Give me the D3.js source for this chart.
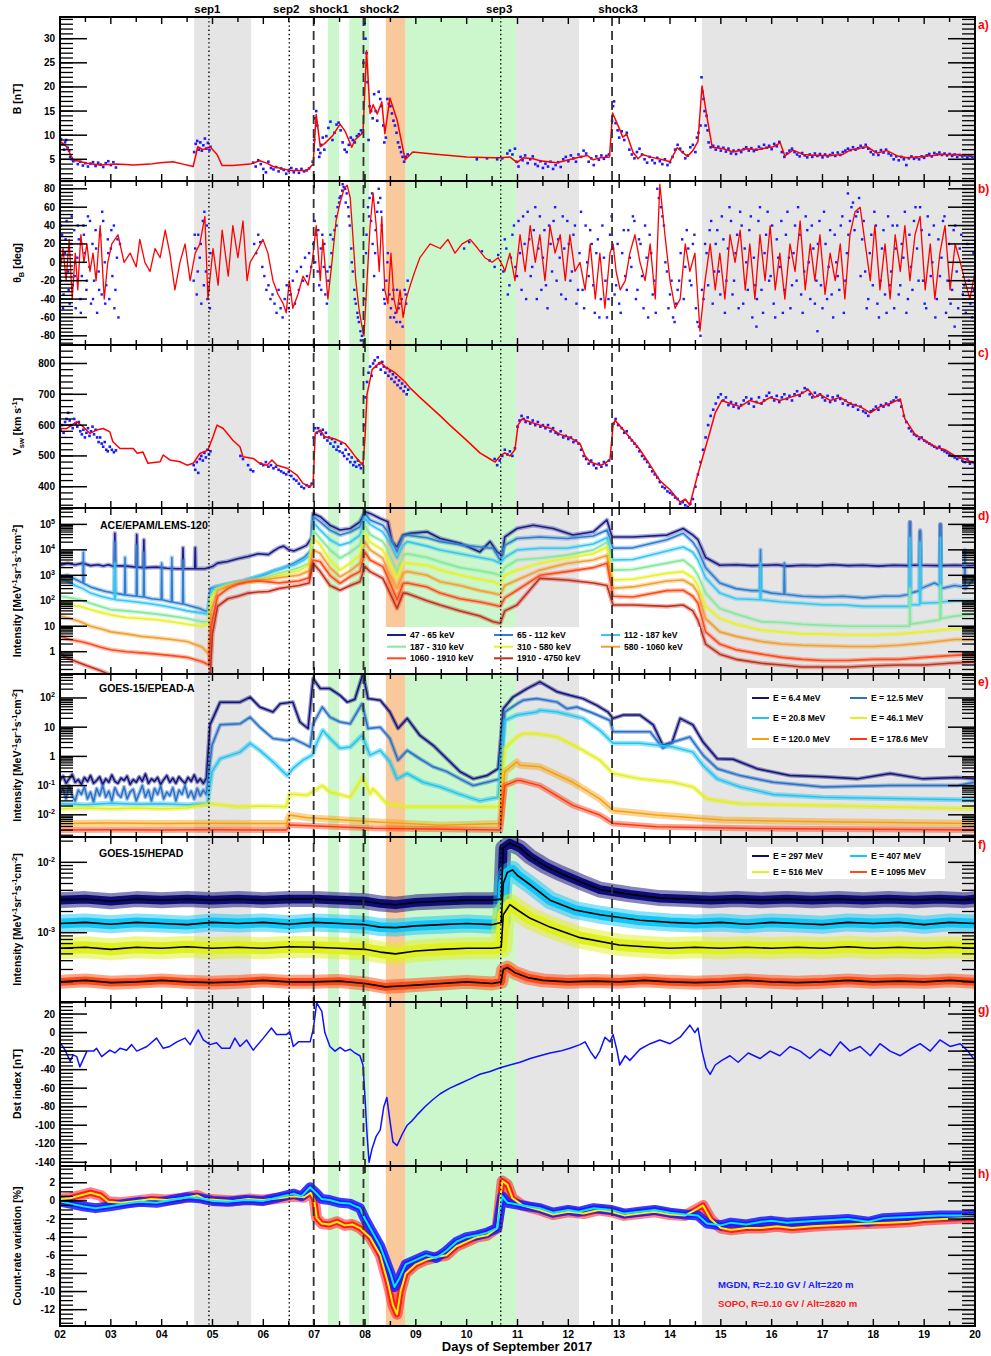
<!DOCTYPE html>
<html>
<head>
<meta charset="utf-8">
<script src="https://cdn.jsdelivr.net/npm/d3@7"></script>
<style>
body { margin: 0; background: #fff; }
text { font-family: "Liberation Sans", Arial, Helvetica, sans-serif; font-weight: bold; }
</style>
</head>
<body>
<svg id="chart" width="991" height="1356"></svg>
<script>
// ---------- time axis / events ----------
var dayTicks = [2,3,4,5,6,7,8,9,10,11,12,13,14,15,16,17,18,19,20];
var dayLabels = ["02","03","04","05","06","07","08","09","10","11","12","13","14","15","16","17","18","19","20"];
var grayBands = [[4.64,5.76],[10.97,12.21],[14.63,20]];
var greenBands = [[7.27,7.49],[7.69,8.08],[8.79,10.97]];
var orangeBands = [[8.41,8.79]];
var eventNames = ["sep1","sep2","shock1","shock2","sep3","shock3"];
var eventDays = [4.93,6.51,6.99,7.97,10.67,12.86];
var eventKinds = ["sep","sep","shock","shock","sep","shock"];
var eventLabelDays = [4.90,6.45,7.29,8.28,10.64,12.98];

// ---------- a) B ----------
var bFieldTicks = [5,10,15,20,25,30];
var bFieldFit = [[2.02,8.6],[2.13,7.6],[2.26,4.9],[2.53,4.2],[2.79,3.8],[3.12,4.0],[3.44,3.8],[3.77,4.0],[3.97,4.3],[4.22,4.5],[4.42,4.0],[4.62,3.5],[4.71,7.6],[4.81,7.0],[4.95,7.6],[5.09,6.0],[5.19,3.7],[5.40,3.7],[5.74,4.0],[5.93,4.7],[6.07,4.2],[6.19,3.5],[6.39,3.0],[6.53,2.7],[6.86,2.7],[6.98,4.0],[7.04,14.3],[7.12,7.6],[7.21,8.3],[7.37,10.0],[7.51,12.3],[7.61,10.8],[7.74,7.5],[7.80,9.0],[7.96,10.5],[8.03,27.5],[8.10,14.5],[8.16,16.3],[8.24,14.4],[8.33,16.9],[8.39,10.3],[8.49,17.7],[8.63,13.2],[8.75,7.0],[8.79,4.9],[8.94,6.5],[9.34,6.1],[10.0,5.5],[10.52,5.3],[10.66,5.3],[10.85,5.5],[10.99,4.3],[11.11,5.3],[11.31,5.1],[11.44,4.7],[11.78,4.3],[11.97,4.8],[12.17,5.3],[12.37,5.8],[12.49,4.9],[12.62,5.3],[12.81,5.5],[12.87,14.6],[13.01,11.2],[13.07,9.6],[13.15,10.2],[13.27,6.5],[13.37,5.1],[13.46,6.0],[13.60,5.5],[13.86,4.9],[14.0,4.5],[14.14,7.4],[14.34,5.6],[14.45,6.8],[14.55,8.7],[14.63,20.2],[14.73,13.6],[14.83,7.5],[15.05,7.2],[15.24,6.5],[15.52,7.2],[15.71,7.0],[16.03,7.6],[16.17,8.4],[16.26,5.7],[16.42,6.9],[16.62,6.0],[16.89,5.8],[17.15,5.8],[17.40,6.0],[17.54,6.9],[17.88,7.6],[18.07,6.3],[18.27,6.8],[18.47,5.7],[18.66,5.3],[18.86,5.5],[19.17,5.8],[19.31,6.0],[19.65,6.0],[19.94,5.8]];
var bFieldRaw = [[2.02,9.2],[2.05,8.1],[2.08,7.0],[2.1,8.5],[2.12,9.0],[2.15,7.4],[2.18,6.8],[2.2,5.5],[2.23,5.0],[2.26,4.6],[2.3,4.8],[2.35,4.0],[2.4,4.5],[2.45,3.7],[2.5,4.2],[2.55,3.5],[2.6,4.1],[2.65,4.4],[2.7,3.6],[2.75,4.3],[2.8,3.9],[2.85,3.4],[2.9,4.2],[2.95,4.6],[3.0,3.8],[3.05,4.4],[3.1,3.3],
[4.64,6.5],[4.67,8.2],[4.7,8.8],[4.73,7.0],[4.76,8.5],[4.79,6.8],[4.82,7.9],[4.85,9.3],[4.88,7.2],[4.91,8.4],[4.94,6.9],[4.96,7.6],
[5.8,4.3],[5.85,3.5],[5.9,4.8],[5.95,4.0],[6.0,3.0],[6.05,2.3],[6.1,4.5],[6.15,3.2],[6.2,2.9],[6.25,3.4],[6.3,2.5],[6.35,3.1],[6.4,2.8],[6.45,2.0],[6.5,2.6],[6.55,3.2],[6.6,2.3],[6.65,2.9],[6.7,2.2],[6.75,3.0],[6.8,2.5],[6.85,2.7],[6.9,3.1],
[6.97,4.5],[7.0,9.0],[7.02,13.5],[7.04,15.0],[7.06,12.0],[7.08,7.0],[7.1,5.5],[7.12,6.3],[7.14,8.0],[7.17,9.5],[7.2,7.0],[7.24,9.8],[7.28,11.5],[7.32,12.8],[7.36,9.0],[7.4,10.5],[7.44,12.2],[7.48,12.6],[7.52,11.0],[7.56,8.5],[7.6,7.0],[7.64,6.5],[7.68,8.0],[7.72,9.5],[7.76,9.0],[7.8,8.5],[7.84,9.8],[7.88,10.2],[7.92,11.0],[7.95,10.5],[7.97,25],[7.99,33],[8.01,30],[8.03,27],[8.05,21],[8.07,9.0],[8.09,16],[8.12,15],[8.15,13.5],[8.18,18.5],[8.21,15],[8.24,13],[8.27,19],[8.3,17.5],[8.33,16],[8.36,12],[8.38,8.5],[8.41,9.5],[8.44,17.5],[8.47,16.5],[8.5,16],[8.53,14.5],[8.56,13],[8.59,12],[8.62,10.5],[8.65,8.5],[8.68,7.5],[8.71,6.5],[8.74,5.5],[8.77,4.5],[8.8,5.5],[8.84,6.0],
[10.2,5.0],[10.4,5.2],[10.6,5.0],[10.7,5.2],[10.8,6.2],[10.85,6.8],[10.9,6.0],[10.95,7.2],[10.98,4.5],
[11.02,3.5],[11.06,5.5],[11.1,4.8],[11.15,5.8],[11.2,4.2],[11.25,5.0],[11.3,5.6],[11.35,4.0],[11.4,3.6],[11.45,4.6],[11.5,3.2],[11.55,4.1],[11.6,3.5],[11.65,4.5],[11.7,3.0],[11.75,3.8],[11.8,4.4],[11.85,3.4],[11.9,5.0],[11.95,5.5],[12.0,4.6],[12.05,5.8],[12.1,5.2],[12.15,4.5],[12.2,6.0],[12.25,5.5],[12.3,6.8],[12.35,6.2],[12.4,4.5],[12.45,5.2],[12.5,3.8],[12.55,5.6],[12.6,4.9],[12.65,5.8],[12.7,5.1],[12.75,5.7],[12.8,6.0],
[12.86,13.0],[12.88,16.0],[12.9,17.0],[12.93,12.5],[12.97,11.0],[13.0,9.5],[13.05,10.8],[13.1,9.0],[13.15,10.5],[13.2,7.0],[13.25,6.0],[13.3,5.2],[13.35,6.5],[13.4,7.2],[13.45,6.0],[13.5,5.0],[13.55,4.3],[13.6,5.5],[13.65,4.8],[13.7,4.2],[13.75,5.3],[13.8,4.6],[13.85,4.0],[13.9,5.0],[13.95,3.8],[14.0,4.4],[14.05,5.5],[14.1,7.0],[14.15,8.0],[14.2,7.2],[14.25,6.5],[14.3,5.2],[14.35,5.8],[14.4,7.5],[14.45,8.0],[14.5,6.5],[14.53,9.5],[14.56,10.5],[14.6,12.0],[14.62,22.0],[14.64,19.0],[14.66,17.5],[14.68,15.0],[14.7,12.0],[14.72,14.0],[14.74,11.0],[14.76,8.5],[14.8,7.5],[14.85,7.8],
[14.9,7.0],[14.95,7.6],[15.0,6.8],[15.05,7.4],[15.1,6.6],[15.15,7.2],[15.2,6.2],[15.25,6.8],[15.3,6.1],[15.35,6.9],[15.4,6.5],[15.45,7.1],[15.5,7.5],[15.55,6.8],[15.6,7.3],[15.65,6.7],[15.7,7.0],[15.75,7.6],[15.8,7.2],[15.85,8.0],[15.9,7.4],[15.95,7.8],[16.0,7.1],[16.05,8.2],[16.1,7.7],[16.15,8.6],[16.2,6.5],[16.25,5.5],[16.3,6.2],[16.35,6.8],[16.4,7.2],[16.45,6.5],[16.5,6.0],[16.55,5.6],[16.6,6.3],[16.65,5.8],[16.7,5.4],[16.75,6.0],[16.8,5.5],[16.85,6.2],[16.9,5.7],[16.95,6.1],[17.0,5.4],[17.05,6.0],[17.1,5.6],[17.15,5.9],[17.2,6.3],[17.25,5.7],[17.3,6.4],[17.35,5.9],[17.4,6.5],[17.45,6.8],[17.5,7.2],[17.55,6.9],[17.6,7.5],[17.65,7.0],[17.7,7.3],[17.75,7.8],[17.8,7.4],[17.85,8.0],[17.9,7.2],[17.95,6.5],[18.0,6.0],[18.05,6.6],[18.1,5.9],[18.15,6.9],[18.2,6.4],[18.25,7.0],[18.3,6.2],[18.35,5.8],[18.4,5.0],[18.45,5.6],[18.5,4.8],[18.55,5.5],[18.6,5.0],[18.65,3.8],[18.7,5.2],[18.75,5.6],[18.8,5.1],[18.85,5.4],[18.9,5.0],[18.95,5.6],[19.0,5.3],[19.05,5.8],[19.1,6.1],[19.15,5.6],[19.2,6.3],[19.25,6.0],[19.3,6.4],[19.35,5.9],[19.4,6.2],[19.45,5.8],[19.5,6.1],[19.55,5.7],[19.6,6.0],[19.65,5.5],[19.7,5.9],[19.75,5.6],[19.8,5.8],[19.85,5.4],[19.9,5.7],[19.95,5.5]];

// ---------- b) theta_B ----------
var thetaTicks = [-80,-60,-40,-20,0,20,40,60,80];
var thetaFit = [[2.0,-10],[2.06,15],[2.12,-20],[2.18,25],[2.24,-40],[2.3,10],[2.35,-30],[2.41,30],[2.47,0],[2.53,20],[2.59,-10],[2.65,10],[2.71,-20],[2.79,40],[2.87,-40],[2.94,0],[3.02,20],[3.14,30],[3.26,0],[3.38,10],[3.5,-5],[3.57,25],[3.67,0],[3.77,-10],[3.87,15],[3.97,5],[4.07,35],[4.16,10],[4.26,-30],[4.36,0],[4.46,20],[4.56,-20],[4.66,10],[4.75,20],[4.85,50],[4.91,-40],[5.01,15],[5.11,-25],[5.19,35],[5.31,-15],[5.4,40],[5.5,5],[5.6,45],[5.68,-20],[5.74,0],[5.9,15],[5.99,25],[6.09,10],[6.19,-20],[6.29,-35],[6.39,-45],[6.45,-55],[6.51,-20],[6.58,-50],[6.68,-35],[6.78,-15],[6.88,-25],[6.96,0],[7.04,40],[7.12,-20],[7.17,25],[7.27,-40],[7.35,0],[7.43,45],[7.51,65],[7.59,80],[7.65,84],[7.71,70],[7.76,30],[7.82,-20],[7.88,-50],[7.94,-70],[7.98,-80],[8.04,-20],[8.1,40],[8.16,75],[8.22,40],[8.28,-10],[8.33,50],[8.39,-30],[8.45,-45],[8.51,10],[8.57,-40],[8.63,-55],[8.69,-30],[8.75,-60],[8.81,-40],[8.89,-25],[8.98,-10],[9.08,5],[9.28,20],[9.48,15],[9.63,25],[9.77,10],[9.91,20],[10.07,25],[10.22,15],[10.36,5],[10.5,0],[10.62,5],[10.72,-5],[10.75,-10],[10.85,10],[10.95,-20],[11.05,30],[11.15,-10],[11.25,40],[11.35,0],[11.44,30],[11.54,-20],[11.64,40],[11.74,10],[11.84,30],[11.94,-20],[12.03,30],[12.13,-10],[12.23,0],[12.33,-30],[12.43,20],[12.53,-40],[12.62,10],[12.72,-50],[12.82,10],[12.88,20],[12.94,-10],[13.02,-30],[13.12,-20],[13.21,10],[13.31,30],[13.41,0],[13.51,-20],[13.61,20],[13.71,-40],[13.8,85],[13.9,30],[14.0,-20],[14.1,-50],[14.2,-40],[14.3,20],[14.39,-10],[14.49,10],[14.59,-75],[14.69,-20],[14.79,20],[14.89,-30],[14.98,10],[15.08,-40],[15.18,30],[15.28,0],[15.38,35],[15.48,-30],[15.57,20],[15.67,-40],[15.77,30],[15.87,-20],[15.97,40],[16.07,-30],[16.16,10],[16.26,-40],[16.36,20],[16.46,-10],[16.56,45],[16.66,-30],[16.76,20],[16.85,-20],[16.95,30],[17.05,-35],[17.15,10],[17.25,-20],[17.35,20],[17.44,-40],[17.54,30],[17.64,55],[17.74,60],[17.84,20],[17.94,-20],[18.03,40],[18.13,-30],[18.23,20],[18.33,-40],[18.43,30],[18.53,-10],[18.62,40],[18.72,-20],[18.82,30],[18.92,50],[19.02,-30],[19.12,20],[19.21,-40],[19.31,10],[19.41,40],[19.51,-30],[19.61,20],[19.71,0],[19.8,-20],[19.9,-40],[20.0,-10]];
var thetaRaw = [[2.01,-20],[2.04,30],[2.07,-35],[2.1,10],[2.13,45],[2.16,-10],[2.19,-45],[2.22,20],[2.25,-25],[2.28,35],[2.31,-50],[2.34,5],[2.37,25],[2.4,-40],[2.43,-15],[2.46,40],[2.49,10],[2.52,-30],[2.55,50],[2.58,-5],[2.61,-45],[2.64,20],[2.67,-20],[2.7,35],[2.73,-55],[2.76,-10],[2.79,30],[2.82,-35],[2.85,45],[2.88,0],[2.91,-25],[2.94,25],[2.97,-40],[3.0,15],[3.03,-15],[3.06,40],[3.09,-30],[3.12,5],[3.15,-60],[3.18,20],
[2.02,40],[2.06,-50],[2.11,25],[2.17,-30],[2.23,50],[2.29,-15],[2.35,40],[2.41,-55],[2.47,30],[2.53,-20],[2.59,45],[2.65,-40],[2.71,15],[2.77,-30],[2.83,55],[2.89,-45],[2.95,10],[3.01,35],[3.07,-50],[3.13,25],
[4.63,-20],[4.66,15],[4.69,-35],[4.72,30],[4.75,5],[4.78,-45],[4.81,45],[4.84,55],[4.87,-10],[4.9,-40],[4.93,-30],[4.96,10],[4.65,30],[4.71,-10],[4.77,20],[4.83,-25],[4.89,40],[4.95,-50],
[5.82,20],[5.86,10],[5.9,30],[5.94,22],[5.98,-5],[6.02,-15],[6.06,-30],[6.1,-25],[6.14,-40],[6.18,-35],[6.22,-45],[6.26,-55],[6.3,-30],[6.34,-50],[6.38,-60],[6.42,-40],[6.46,-25],[6.5,-50],[6.54,-35],[6.58,-20],[6.62,-45],[6.66,-10],[6.7,-30],[6.74,-5],[6.78,-20],[6.82,5],[6.86,-15],[6.9,10],[6.94,-5],
[6.98,20],[7.01,45],[7.04,30],[7.07,-10],[7.1,-25],[7.13,15],[7.16,30],[7.19,-5],[7.22,-35],[7.25,-45],[7.28,-20],[7.31,-5],[7.34,10],[7.37,25],[7.4,35],[7.43,50],[7.46,60],[7.49,65],[7.52,72],[7.55,78],[7.58,82],[7.61,80],[7.64,75],[7.67,60],[7.7,40],[7.73,15],[7.76,-10],[7.79,-30],[7.82,-45],[7.85,-55],[7.88,-65],[7.91,-75],[7.94,-80],[7.97,-85],[8.0,-40],[8.03,30],[8.06,60],[8.09,70],[8.12,45],[8.15,20],[8.18,-15],[8.21,35],[8.24,55],[8.27,80],[8.3,70],[8.33,40],[8.36,-30],[8.39,-45],[8.42,-20],[8.45,10],[8.48,-35],[8.51,-50],[8.54,-40],[8.57,-60],[8.6,-55],[8.63,-30],[8.66,-50],[8.69,-65],[8.72,-40],[8.75,-55],[8.78,-30],[8.81,-45],[8.84,-20],
[7.02,0],[7.08,35],[7.14,-30],[7.2,20],[7.26,-10],[7.32,30],[7.44,40],[7.5,70],[7.56,85],[7.62,65],[7.68,50],[7.74,0],[7.8,-40],[7.86,-60],[7.92,-85],[8.02,10],[8.08,50],[8.14,75],[8.2,10],[8.26,65],[8.32,55],[8.38,-40],[8.44,0],[8.5,-60],[8.56,-30],[8.62,-65],[8.68,-45],[8.74,-70],[8.8,-35],
[9.95,15],[10.05,22],[10.3,12],[10.45,2],[10.55,-5],[10.62,8],
[10.72,-10],[10.78,15],[10.84,-25],[10.9,30],[10.96,-5],[11.02,45],[11.08,-30],[11.14,20],[11.2,55],[11.26,-15],[11.32,35],[11.38,-40],[11.44,50],[11.5,5],[11.56,-25],[11.62,40],[11.68,-10],[11.74,60],[11.8,25],[11.86,-35],[11.92,15],[11.98,45],[12.04,-20],[12.1,30],[12.16,-45],[12.22,10],[12.28,-30],[12.34,40],[12.4,-15],[12.46,20],[12.52,-55],[12.58,25],[12.64,-40],[12.7,5],[12.76,-60],[12.82,30],[12.88,15],[12.94,-25],[13.0,-45],[13.06,10],[13.12,-15],[13.18,35],[13.24,-5],[13.3,45],[13.36,-30],[13.42,20],[13.48,-50],[13.54,5],[13.6,30],[13.66,-35],[13.72,-55],[13.78,70],[13.82,60],[13.88,40],[13.94,-10],[14.0,-35],[14.06,-60],[14.12,-45],[14.18,-20],[14.24,25],[14.3,-5],[14.36,15],[14.42,-25],[14.48,30],[14.54,-65],[14.6,-80],[14.66,-40],[14.72,10],[14.78,35],[14.84,-45],[14.9,20],[14.96,-10],[15.02,50],[15.08,-55],[15.14,15],[15.2,45],[15.26,-20],[15.32,30],[15.38,55],[15.44,-45],[15.5,0],[15.56,35],[15.62,-60],[15.68,-25],[15.7,-70],[15.74,45],[15.8,-30],[15.86,10],[15.92,55],[15.98,-15],[16.04,-45],[16.1,25],[16.16,-5],[16.22,-55],[16.28,30],[16.34,5],[16.4,-25],[16.46,40],[16.52,60],[16.58,-35],[16.64,-10],[16.7,35],[16.76,-40],[16.82,15],[16.88,-20],[16.9,-75],[16.94,45],[17.0,-50],[17.06,20],[17.12,-5],[17.18,-35],[17.24,30],[17.3,-15],[17.36,40],[17.42,-55],[17.48,10],[17.5,75],[17.54,45],[17.6,65],[17.66,50],[17.72,70],[17.78,25],[17.84,-10],[17.9,-40],[17.96,30],[18.02,55],[18.08,-45],[18.14,-20],[18.2,35],[18.26,-55],[18.32,-25],[18.38,40],[18.44,15],[18.5,-35],[18.56,20],[18.62,55],[18.68,-40],[18.74,-5],[18.8,45],[18.86,15],[18.92,60],[18.98,-20],[19.04,-50],[19.1,30],[19.16,0],[19.22,-60],[19.28,25],[19.34,5],[19.4,50],[19.46,-20],[19.52,-45],[19.58,35],[19.6,-70],[19.64,-10],[19.7,15],[19.76,-35],[19.82,-55],[19.88,-20],[19.94,-60],[19.98,-30],
[10.75,25],[10.81,-35],[10.87,5],[10.93,40],[10.99,-15],[11.05,10],[11.11,50],[11.17,-40],[11.23,25],[11.29,-5],[11.35,60],[11.41,15],[11.47,-30],[11.53,35],[11.59,-50],[11.65,20],[11.71,45],[11.77,-20],[11.83,5],[11.89,50],[11.95,-40],[12.01,20],[12.07,-10],[12.13,40],[12.19,-30],[12.25,55],[12.31,-50],[12.37,0],[12.43,35],[12.49,-25],[12.55,10],[12.61,-60],[12.67,40],[12.73,-20],[12.79,-40],[12.85,50],[12.91,-35],[12.97,20],[13.03,-55],[13.09,35],[13.15,-30],[13.21,5],[13.27,50],[13.33,-40],[13.39,25],[13.45,-15],[13.51,40],[13.57,-60],[13.63,10],[13.69,-20],[13.75,80],[13.85,50],[13.91,0],[13.97,-50],[14.03,-20],[14.09,-65],[14.15,-30],[14.21,10],[14.27,-40],[14.33,35],[14.39,-20],[14.45,20],[14.51,-50],[14.57,-70],[14.63,-30],[14.69,20],[14.75,-25],[14.81,45],[14.87,-10],[14.93,35],[14.99,-35],[15.05,25],[15.11,-20],[15.17,60],[15.23,-35],[15.29,10],[15.35,-50],[15.41,40],[15.47,15],[15.53,-30],[15.59,50],[15.65,5],[15.71,-40],[15.77,60],[15.83,-55],[15.89,30],[15.95,-20],[16.01,40],[16.07,-60],[16.13,5],[16.19,45],[16.25,-30],[16.31,55],[16.37,-50],[16.43,10],[16.49,-20],[16.55,30],[16.61,-55],[16.67,50],[16.73,0],[16.79,40],[16.85,-45],[16.91,20],[16.97,-25],[17.03,55],[17.09,-40],[17.15,35],[17.21,-60],[17.27,0],[17.33,-30],[17.39,50],[17.45,-20],[17.51,30],[17.57,60],[17.63,35],[17.69,55],[17.75,-15],[17.81,45],[17.87,-50],[17.93,10],[17.99,-25],[18.05,40],[18.11,-60],[18.17,15],[18.23,-35],[18.29,50],[18.35,-10],[18.41,-50],[18.47,40],[18.53,-25],[18.59,5],[18.65,-55],[18.71,30],[18.77,-30],[18.83,60],[18.89,-20],[18.95,35],[19.01,-45],[19.07,50],[19.13,-15],[19.19,40],[19.25,-40],[19.31,-15],[19.37,45],[19.43,-55],[19.49,20],[19.55,-30],[19.61,40],[19.67,-50],[19.73,30],[19.79,-25],[19.85,20],[19.91,-45],[19.97,10]];

// ---------- c) V_sw ----------
var vswTicks = [400,500,600,700,800];
var vswFit = [[2.02,589],[2.13,589],[2.33,611],[2.46,594],[2.59,573],[2.72,584],[2.85,589],[2.98,578],[3.04,546],[3.18,524],[3.44,524],[3.52,509],[3.63,513],[3.73,476],[3.97,481],[4.03,503],[4.16,487],[4.36,481],[4.5,470],[4.62,476],[4.75,508],[4.91,519],[5.01,562],[5.09,600],[5.21,589],[5.40,551],[5.54,530],[5.60,497],[5.80,492],[5.93,476],[6.07,470],[6.17,487],[6.27,470],[6.47,460],[6.66,438],[6.78,411],[6.92,400],[6.98,411],[7.02,573],[7.12,584],[7.21,562],[7.41,555],[7.61,540],[7.71,520],[7.80,500],[7.90,480],[7.96,470],[8.0,560],[8.04,700],[8.14,780],[8.30,805],[8.39,790],[8.59,770],[8.79,740],[8.89,720],[9.08,690],[9.28,660],[9.48,630],[9.67,600],[9.87,570],[10.07,540],[10.26,510],[10.46,490],[10.56,480],[10.66,500],[10.75,510],[10.85,500],[10.95,520],[11.01,600],[11.09,620],[11.25,610],[11.44,600],[11.64,590],[11.84,570],[12.03,560],[12.23,540],[12.33,500],[12.43,480],[12.62,470],[12.72,475],[12.82,490],[12.88,600],[12.92,616],[13.21,560],[13.41,520],[13.61,470],[13.80,420],[14.0,390],[14.10,370],[14.20,350],[14.30,360],[14.39,340],[14.45,380],[14.53,430],[14.65,500],[14.79,580],[14.89,640],[15.02,680],[15.18,670],[15.38,660],[15.57,680],[15.77,670],[15.97,690],[16.16,680],[16.36,690],[16.56,700],[16.72,715],[16.85,690],[16.95,700],[17.15,680],[17.35,690],[17.54,670],[17.74,660],[17.94,640],[18.13,660],[18.33,670],[18.53,685],[18.62,620],[18.82,570],[19.02,550],[19.21,530],[19.41,520],[19.61,500],[19.80,490],[20.0,475]];
var vswRaw = [[2.01,585],[2.04,600],[2.07,575],[2.1,610],[2.13,620],[2.16,640],[2.19,615],[2.22,600],[2.25,590],[2.28,620],[2.31,605],[2.34,595],[2.37,610],[2.4,580],[2.43,570],[2.46,585],[2.49,560],[2.52,575],[2.55,590],[2.58,565],[2.61,580],[2.64,595],[2.67,570],[2.7,585],[2.73,560],[2.76,545],[2.79,560],[2.82,540],[2.85,530],[2.88,545],[2.91,520],[2.94,515],[2.98,530],[3.02,520],[3.06,512],[3.1,518],
[4.63,470],[4.66,455],[4.69,480],[4.72,445],[4.75,490],[4.78,500],[4.81,485],[4.84,510],[4.87,495],[4.9,520],[4.93,505],[4.96,515],
[5.55,500],[5.6,490],[5.7,470],[5.75,455],[5.8,450],[5.95,475],[6.0,470],[6.05,480],[6.1,465],[6.15,470],[6.2,460],[6.25,465],[6.3,455],[6.35,450],[6.4,445],[6.45,440],[6.5,448],[6.55,435],[6.6,425],[6.65,420],[6.7,410],[6.75,400],[6.8,395],[6.85,405],[6.9,400],[6.95,410],
[6.99,560],[7.02,590],[7.05,575],[7.08,590],[7.11,580],[7.14,570],[7.17,585],[7.2,560],[7.23,575],[7.26,550],[7.29,560],[7.32,540],[7.35,555],[7.38,530],[7.41,545],[7.44,520],[7.47,530],[7.5,515],[7.53,540],[7.56,510],[7.59,500],[7.62,520],[7.65,490],[7.68,505],[7.71,480],[7.74,495],[7.77,470],[7.8,480],[7.83,465],[7.86,485],[7.89,470],[7.92,460],[7.95,475],[7.98,600],[8.01,690],[8.04,740],[8.07,770],[8.1,790],[8.13,760],[8.16,800],[8.19,810],[8.22,790],[8.25,820],[8.28,800],[8.31,780],[8.34,805],[8.37,790],[8.4,770],[8.43,785],[8.46,760],[8.49,775],[8.52,750],[8.55,765],[8.58,740],[8.61,755],[8.64,730],[8.67,745],[8.7,720],[8.73,735],[8.76,710],[8.79,725],[8.82,700],[8.85,715],
[10.55,490],[10.6,470],[10.65,485],[10.7,500],[10.75,520],[10.8,505],[10.85,515],[10.9,500],[10.95,525],[11.0,595],[11.04,615],[11.08,630],[11.12,620],[11.16,610],[11.2,625],[11.25,605],[11.3,615],[11.35,600],[11.4,610],[11.45,595],[11.5,600],[11.55,590],[11.6,600],[11.65,580],[11.7,590],[11.75,575],[11.8,570],[11.85,580],[11.9,560],[11.95,565],[12.0,555],[12.05,560],[12.1,545],[12.15,550],[12.2,540],[12.25,520],[12.3,500],[12.35,490],[12.4,475],[12.45,485],[12.5,470],[12.55,460],[12.6,475],[12.65,465],[12.7,480],[12.75,470],[12.8,485],[12.85,500],[12.89,605],[12.93,620],[12.98,600],[13.05,590],[13.1,575],[13.15,580],[13.2,560],[13.25,550],[13.3,540],[13.35,530],[13.4,515],[13.45,500],[13.5,490],[13.55,480],[13.6,465],[13.65,450],[13.7,440],[13.75,430],[13.8,415],[13.85,400],[13.9,395],[13.95,385],[14.0,380],[14.05,375],[14.1,365],[14.15,360],[14.2,345],[14.25,350],[14.3,340],[14.35,335],[14.4,345],[14.45,360],[14.5,400],[14.55,440],[14.6,480],[14.65,520],[14.7,560],[14.75,600],[14.8,630],[14.85,650],[14.9,670],[14.95,690],[15.0,700],[15.05,680],[15.1,690],[15.15,665],[15.2,675],[15.25,660],[15.3,670],[15.35,655],[15.4,665],[15.45,680],[15.5,690],[15.55,670],[15.6,685],[15.65,660],[15.7,675],[15.75,690],[15.8,670],[15.85,680],[15.9,695],[15.95,705],[16.0,690],[16.05,680],[16.1,695],[16.15,675],[16.2,690],[16.25,700],[16.3,685],[16.35,695],[16.4,680],[16.45,700],[16.5,710],[16.55,695],[16.6,705],[16.65,720],[16.7,715],[16.75,700],[16.8,690],[16.85,705],[16.9,695],[16.95,700],[17.0,690],[17.05,680],[17.1,695],[17.15,675],[17.2,690],[17.25,680],[17.3,695],[17.35,685],[17.4,670],[17.45,680],[17.5,665],[17.55,670],[17.6,660],[17.65,665],[17.7,650],[17.75,660],[17.8,645],[17.85,640],[17.9,630],[17.95,645],[18.0,650],[18.05,660],[18.1,650],[18.15,665],[18.2,660],[18.25,670],[18.3,665],[18.35,675],[18.4,680],[18.45,690],[18.5,680],[18.55,660],[18.6,630],[18.65,610],[18.7,590],[18.75,580],[18.8,570],[18.85,565],[18.9,555],[18.95,560],[19.0,550],[19.05,545],[19.1,540],[19.15,535],[19.2,530],[19.25,525],[19.3,530],[19.35,520],[19.4,515],[19.45,510],[19.5,505],[19.55,500],[19.6,495],[19.65,490],[19.7,495],[19.75,485],[19.8,480],[19.85,490],[19.9,475],[19.95,480],[20.0,470]];

// ---------- d) ACE/EPAM/LEMS-120 ----------
var epamTicks = [1,10,100,1e3,1e4,1e5];
var epamLabels = ["47 - 65 keV","65 - 112 keV","112 - 187 keV","187 - 310 keV","310 - 580 keV","580 - 1060 keV","1060 - 1910 keV","1910 - 4750 keV"];
var epam47 = [[2.0,2500],[2.15,2900],[2.3,2600],[2.45,3000],[2.6,2400],[2.75,2600],[2.85,2300],[2.95,2600],[3.07,2200],[3.08,4.5e4],[3.09,2400],[3.3,2300],[3.5,2100],[3.51,4e4],[3.52,2100],[3.64,2000],[3.65,2.5e4],[3.66,2000],[3.9,2100],[4.1,1900],[4.3,1800],[4.41,1800],[4.42,1.2e4],[4.43,1800],[4.65,1800],[4.66,1.2e4],[4.67,1800],[4.85,1800],[5.0,2200],[5.1,3000],[5.3,3500],[5.5,4500],[5.7,5500],[5.9,7000],[6.1,6500],[6.2,9000],[6.3,1.2e4],[6.4,1.4e4],[6.5,1.0e4],[6.6,9000],[6.75,1.2e4],[6.85,1.5e4],[6.95,3e4],[6.98,2.7e5],[7.12,2.0e5],[7.31,9.3e4],[7.51,6e4],[7.71,6.9e4],[7.90,1.26e5],[8.0,3.1e5],[8.10,2.7e5],[8.30,1.7e5],[8.45,1.26e5],[8.53,2.1e4],[8.63,1.3e4],[8.75,3.8e4],[8.89,4.5e4],[9.22,5.1e4],[9.48,2.8e4],[9.87,1.8e4],[10.26,8300],[10.46,2.1e4],[10.60,8300],[10.70,6200],[10.75,3.2e4],[10.99,6.9e4],[11.31,9.3e4],[11.70,6.9e4],[12.09,3.8e4],[12.49,5.1e4],[12.76,1.5e5],[12.86,3.2e4],[13.27,3.2e4],[13.94,3.8e4],[14.26,6.9e4],[14.45,3.8e4],[14.55,2.5e4],[14.7,5000],[14.98,2500],[15.3,2600],[15.6,2400],[15.9,2500],[16.1,2600],[16.3,2300],[16.6,2500],[16.9,2400],[17.2,2600],[17.5,2400],[17.8,2500],[18.1,2300],[18.4,2500],[18.71,2400],[18.72,1.2e5],[18.73,2500],[18.91,2500],[18.92,5e4],[18.93,2500],[19.31,2400],[19.32,1e5],[19.33,2400],[19.6,2500],[19.9,2400],[20,2500]];
var epam65 = [[2.0,900],[2.15,1000],[2.3,700],[2.45,500],[2.46,8000],[2.47,480],[2.6,350],[2.75,280],[2.9,230],[3.07,200],[3.08,2e4],[3.09,200],[3.27,170],[3.28,5000],[3.29,170],[3.5,150],[3.51,1.5e4],[3.52,150],[3.64,140],[3.65,8000],[3.66,140],[3.8,120],[3.99,110],[4.0,3000],[4.01,110],[4.19,90],[4.2,5000],[4.21,90],[4.41,75],[4.42,4000],[4.43,75],[4.6,60],[4.75,50],[4.85,40],[4.92,40],[4.96,300],[5.05,350],[5.2,400],[5.4,500],[5.6,600],[5.8,800],[6.0,1000],[6.2,1500],[6.4,2000],[6.6,3000],[6.8,5000],[6.95,1e4],[6.98,2e5],[7.12,1.26e5],[7.31,6e4],[7.51,3.8e4],[7.71,5e4],[7.90,8.1e4],[8.0,2.7e5],[8.10,1.5e5],[8.35,9.3e4],[8.45,5e4],[8.63,8300],[8.75,3.5e4],[8.83,3.8e4],[9.22,3e4],[9.48,2.1e4],[9.87,1.6e4],[10.26,1.3e4],[10.52,1.15e4],[10.66,4000],[10.75,1.5e4],[10.99,2.8e4],[11.44,3.2e4],[11.97,2.8e4],[12.49,3.5e4],[12.76,6e4],[12.88,1.15e4],[13.27,1.2e4],[13.94,2.5e4],[14.26,4.5e4],[14.45,2e4],[14.55,1e4],[14.7,2000],[14.98,500],[15.3,300],[15.6,250],[15.77,250],[15.78,1e4],[15.79,250],[16.0,200],[16.24,180],[16.25,3000],[16.26,180],[16.6,150],[17.0,140],[17.4,150],[17.8,130],[18.2,150],[18.5,150],[18.71,180],[18.72,1.2e5],[18.73,200],[18.91,250],[18.92,6e4],[18.93,300],[19.2,500],[19.31,400],[19.32,1e5],[19.33,300],[19.6,400],[19.79,350],[19.8,1e4],[19.81,300],[20,800]];
var epam112 = [[2.0,700],[2.15,600],[2.3,400],[2.45,300],[2.6,200],[2.8,150],[3.0,120],[3.07,115],[3.08,3000],[3.09,110],[3.3,100],[3.5,90],[3.7,80],[3.9,70],[4.1,60],[4.3,50],[4.5,40],[4.7,35],[4.9,30],[4.96,200],[5.05,350],[5.2,420],[5.4,500],[5.6,600],[5.8,800],[6.0,1100],[6.2,1500],[6.4,2000],[6.6,2500],[6.8,4000],[6.95,7000],[6.98,1.2e5],[7.12,6e4],[7.31,2.5e4],[7.51,1.5e4],[7.71,2e4],[7.90,3.8e4],[8.0,1.7e5],[8.10,1e5],[8.35,5.1e4],[8.45,2.5e4],[8.63,4700],[8.75,1.5e4],[8.83,2.1e4],[9.22,1.4e4],[9.48,9800],[9.87,7000],[10.26,5000],[10.52,4000],[10.66,3000],[10.75,5000],[10.99,9800],[11.44,1.15e4],[11.97,1.15e4],[12.49,1.7e4],[12.76,3e4],[12.88,4000],[13.27,4200],[13.94,9000],[14.26,1.3e4],[14.45,8000],[14.55,4000],[14.7,800],[14.98,200],[15.3,120],[15.77,110],[15.78,3000],[15.79,110],[16.2,90],[16.6,80],[17.0,70],[17.4,70],[17.8,60],[18.2,60],[18.5,60],[18.71,60],[18.72,3e4],[18.73,70],[18.91,70],[18.92,2e4],[18.93,80],[19.31,85],[19.32,3e4],[19.33,90],[19.6,100],[20,100]];
var epam187 = [[2.0,150],[2.2,130],[2.4,110],[2.6,80],[2.8,60],[3.0,45],[3.3,40],[3.6,35],[3.9,30],[4.2,25],[4.5,20],[4.8,15],[4.92,15],[4.97,150],[5.1,300],[5.3,400],[5.5,500],[5.7,600],[5.9,700],[6.1,900],[6.3,1200],[6.5,1500],[6.7,2000],[6.9,3000],[6.98,6e4],[7.12,2.8e4],[7.31,1e4],[7.51,4700],[7.71,8000],[7.90,1.55e4],[8.0,9e4],[8.10,4e4],[8.35,2.1e4],[8.45,1e4],[8.63,1400],[8.75,6200],[8.83,7000],[9.22,5000],[9.48,3400],[9.87,2000],[10.26,1500],[10.52,1200],[10.66,1000],[10.75,2000],[10.99,4000],[11.44,4700],[11.97,6200],[12.49,1e4],[12.76,2e4],[12.88,1600],[13.27,1700],[13.94,3000],[14.26,4000],[14.45,2000],[14.55,1000],[14.7,200],[14.98,50],[15.3,30],[15.8,15],[16.2,14],[16.6,12],[17.0,11],[17.5,10],[18.0,10],[18.5,10],[18.71,10],[18.72,300],[18.73,12],[19.31,18],[19.32,400],[19.33,20],[19.6,25],[20,30]];
var epam310 = [[2.0,90],[2.2,70],[2.4,60],[2.6,45],[2.8,35],[3.0,28],[3.3,22],[3.6,20],[3.9,18],[4.2,15],[4.5,12],[4.8,10],[4.92,12],[4.97,120],[5.1,280],[5.3,400],[5.5,500],[5.7,550],[5.9,600],[6.1,750],[6.3,1000],[6.5,1200],[6.7,1500],[6.9,2500],[6.98,3e4],[7.12,1.55e4],[7.31,4000],[7.51,1600],[7.71,3000],[7.90,6200],[8.0,4.5e4],[8.10,2e4],[8.35,9800],[8.45,4000],[8.63,760],[8.75,3000],[8.83,3000],[9.22,2500],[9.48,1600],[9.87,1000],[10.26,700],[10.52,560],[10.66,420],[10.75,1000],[10.99,1600],[11.44,3000],[11.97,4700],[12.49,7000],[12.76,1.3e4],[12.88,650],[13.27,700],[13.94,1200],[14.26,1400],[14.45,800],[14.55,400],[14.7,60],[14.98,20],[15.3,12],[15.8,7],[16.2,6],[16.6,5],[17.0,5],[17.5,4.5],[18.0,4.5],[18.5,5],[19.0,6],[19.6,8],[20,9]];
var epam580 = [[2.0,25],[2.2,20],[2.4,15],[2.6,10],[2.8,8],[3.0,6],[3.3,5],[3.6,4],[3.9,3.5],[4.2,3],[4.5,2.5],[4.8,1.5],[4.93,0.8],[4.97,40],[5.1,250],[5.3,380],[5.5,500],[5.7,600],[5.9,650],[6.1,700],[6.3,800],[6.5,900],[6.7,1000],[6.9,1500],[6.98,1e4],[7.12,7200],[7.31,2000],[7.51,870],[7.71,1500],[7.90,3000],[8.0,2e4],[8.10,1e4],[8.35,4700],[8.45,1500],[8.63,310],[8.75,1200],[8.83,1400],[9.22,1000],[9.48,560],[9.87,400],[10.26,250],[10.52,200],[10.66,170],[10.75,400],[10.99,650],[11.44,1600],[11.97,2900],[12.49,4000],[12.76,6000],[12.88,310],[13.27,350],[13.94,600],[14.26,650],[14.45,400],[14.55,200],[14.7,20],[14.98,6],[15.3,4],[15.8,2.5],[16.2,2],[16.6,1.8],[17.0,1.7],[17.5,1.6],[18.0,1.6],[18.5,1.8],[19.0,2.2],[19.6,3],[20,3]];
var epam1060 = [[2.0,4],[2.2,3],[2.4,2.5],[2.6,2],[2.8,1.5],[3.0,1.2],[3.3,1],[3.6,0.9],[3.9,0.8],[4.2,0.7],[4.5,0.6],[4.8,0.4],[4.93,0.3],[4.97,10],[5.1,150],[5.3,300],[5.5,450],[5.7,550],[5.9,600],[6.1,550],[6.3,500],[6.5,550],[6.7,600],[6.9,800],[6.98,4000],[7.12,3400],[7.31,1000],[7.51,480],[7.71,900],[7.90,1400],[8.0,8000],[8.10,4000],[8.35,2200],[8.45,800],[8.63,110],[8.75,480],[8.83,500],[9.22,350],[9.48,200],[9.87,120],[10.26,90],[10.52,70],[10.66,60],[10.75,130],[10.99,260],[11.44,1000],[11.97,1400],[12.49,2000],[12.76,3000],[12.88,150],[13.27,140],[13.94,250],[14.26,260],[14.45,150],[14.55,80],[14.7,6],[14.98,2],[15.3,1.2],[15.8,0.8],[16.2,0.6],[16.6,0.5],[17.0,0.45],[17.5,0.45],[18.0,0.5],[18.5,0.5],[19.0,0.6],[19.5,0.7],[20,0.8]];
var epam1910 = [[2.0,0.8],[2.2,0.5],[2.4,0.35],[2.6,0.25],[2.8,0.18],[3.0,0.12],[3.5,0.08],[4.5,0.06],[4.95,0.08],[5.0,5],[5.1,60],[5.3,120],[5.5,150],[5.7,200],[5.9,220],[6.1,230],[6.3,300],[6.5,350],[6.7,400],[6.9,500],[6.98,3000],[7.12,1400],[7.31,400],[7.51,260],[7.71,400],[7.90,560],[8.0,2200],[8.10,1400],[8.35,760],[8.45,300],[8.63,50],[8.75,200],[8.83,195],[9.22,100],[9.48,68],[9.87,40],[10.26,25],[10.52,15],[10.66,13],[10.75,40],[10.99,68],[11.44,760],[11.97,650],[12.49,500],[12.76,400],[12.88,68],[13.27,68],[13.94,60],[14.26,68],[14.45,40],[14.55,17],[14.7,2],[14.98,0.8],[15.3,0.5],[15.8,0.35],[16.2,0.3],[16.6,0.25],[17.0,0.25],[17.5,0.25],[18.0,0.28],[18.5,0.3],[19.0,0.3],[19.5,0.35],[20,0.4]];

// ---------- e) GOES-15/EPEAD-A ----------
var epeadTicks = [0.01,0.1,1,10,100];
var epeadLabels = ["E = 6.4 MeV","E = 12.5 MeV","E = 20.8 MeV","E = 46.1 MeV","E = 120.0 MeV","E = 178.6 MeV"];
var epead6 = [[2.0,0.15],[2.06,0.21],[2.12,0.12],[2.18,0.17],[2.24,0.24],[2.3,0.13],[2.36,0.16],[2.42,0.11],[2.48,0.19],[2.54,0.14],[2.6,0.22],[2.66,0.12],[2.72,0.15],[2.78,0.2],[2.84,0.11],[2.9,0.17],[2.96,0.13],[3.02,0.23],[3.08,0.14],[3.14,0.12],[3.2,0.18],[3.26,0.15],[3.32,0.21],[3.38,0.11],[3.44,0.16],[3.5,0.13],[3.56,0.2],[3.62,0.14],[3.68,0.25],[3.74,0.12],[3.8,0.17],[3.86,0.14],[3.92,0.19],[3.98,0.11],[4.04,0.16],[4.1,0.22],[4.16,0.13],[4.22,0.18],[4.28,0.12],[4.34,0.2],[4.4,0.15],[4.46,0.12],[4.52,0.19],[4.58,0.14],[4.64,0.23],[4.7,0.13],[4.76,0.17],[4.82,0.12],[4.88,0.18],[4.95,12],[5.15,72],[5.54,72],[5.74,107],[5.93,49],[6.19,33],[6.33,63],[6.58,72],[6.72,15],[6.88,9],[6.98,460],[7.12,210],[7.31,210],[7.51,123],[7.65,72],[7.80,90],[7.96,680],[8.06,95],[8.30,83],[8.49,33],[8.65,9],[8.83,20],[9.08,5.2],[9.34,2.4],[9.61,0.83],[9.87,0.3],[10.13,0.17],[10.40,0.22],[10.62,0.38],[10.72,43],[10.91,107],[11.19,210],[11.38,310],[11.44,355],[11.78,162],[12.03,123],[12.29,95],[12.56,56],[12.78,33],[12.88,20],[13.08,26],[13.41,26],[13.67,12],[13.86,2.4],[14.04,3],[14.20,20],[14.45,12],[14.65,3.1],[14.93,0.83],[15.24,0.8],[15.71,0.38],[16.36,0.22],[17.01,0.2],[17.68,0.17],[18.33,0.26],[18.98,0.17],[19.65,0.19],[20.0,0.17]];
var epead12 = [[2.0,0.05],[2.06,0.08],[2.12,0.035],[2.18,0.1],[2.24,0.045],[2.3,0.03],[2.36,0.07],[2.42,0.05],[2.48,0.09],[2.54,0.035],[2.6,0.06],[2.66,0.028],[2.72,0.08],[2.78,0.045],[2.84,0.1],[2.9,0.04],[2.96,0.065],[3.02,0.03],[3.08,0.085],[3.14,0.05],[3.2,0.04],[3.26,0.09],[3.32,0.035],[3.38,0.06],[3.44,0.075],[3.5,0.03],[3.56,0.055],[3.62,0.1],[3.68,0.04],[3.74,0.07],[3.8,0.03],[3.86,0.08],[3.92,0.05],[3.98,0.095],[4.04,0.035],[4.1,0.06],[4.16,0.045],[4.22,0.085],[4.28,0.03],[4.34,0.07],[4.4,0.05],[4.46,0.1],[4.52,0.04],[4.58,0.065],[4.64,0.035],[4.7,0.08],[4.76,0.045],[4.82,0.07],[4.88,0.05],[4.99,2.4],[5.15,12],[5.54,13],[5.74,22],[5.93,10],[6.19,4.1],[6.47,3.5],[6.58,4.1],[6.78,2.8],[6.92,2.1],[6.98,13],[7.16,49],[7.31,22],[7.51,15],[7.71,13],[7.94,63],[8.06,9],[8.30,10],[8.49,4.1],[8.65,0.74],[8.83,1.6],[9.08,0.83],[9.34,0.44],[9.61,0.3],[9.87,0.17],[10.13,0.1],[10.40,0.13],[10.66,0.17],[10.75,33],[10.99,63],[11.11,83],[11.38,95],[11.78,72],[11.97,43],[12.17,49],[12.43,33],[12.82,17],[12.88,7],[13.08,7],[13.61,7],[13.86,1.9],[14.06,3.1],[14.39,4.6],[14.65,1.1],[14.93,0.38],[15.38,0.22],[16.03,0.13],[17.01,0.09],[18.33,0.1],[19.65,0.1],[20.0,0.13]];
var epead20 = [[2.0,0.024],[2.5,0.022],[3.0,0.025],[3.5,0.023],[4.0,0.024],[4.5,0.022],[4.9,0.024],[4.99,0.3],[5.15,0.83],[5.54,1.4],[5.74,2.8],[5.93,1.6],[6.19,0.65],[6.47,0.22],[6.58,0.38],[6.78,0.74],[6.96,1.1],[7.06,3.1],[7.17,7.8],[7.31,4.1],[7.51,1.9],[7.71,2.1],[7.94,5.2],[8.10,1.1],[8.30,1.6],[8.49,0.65],[8.63,0.17],[8.83,0.26],[9.14,0.13],[9.48,0.09],[9.87,0.05],[10.26,0.03],[10.62,0.04],[10.75,17],[10.99,26],[11.38,33],[11.44,38],[11.78,33],[12.29,20],[12.62,7.8],[12.88,2.8],[13.41,2.8],[14.06,2.1],[14.45,1.4],[14.65,0.49],[14.93,0.17],[15.38,0.09],[16.03,0.05],[17.01,0.04],[18.33,0.036],[20.0,0.032]];
var epead46 = [[2.0,0.016],[2.5,0.017],[3.0,0.016],[3.5,0.017],[4.0,0.016],[4.5,0.017],[4.95,0.024],[5.5,0.019],[6.0,0.02],[6.45,0.019],[6.52,0.052],[6.86,0.047],[7.16,0.1],[7.31,0.06],[7.71,0.04],[7.96,0.2],[8.10,0.052],[8.16,0.078],[8.43,0.024],[8.83,0.019],[10.13,0.019],[10.66,0.019],[10.75,1.9],[10.99,4.6],[11.11,6],[11.38,6],[11.78,4.6],[12.17,2.1],[12.62,0.74],[12.88,0.26],[13.41,0.17],[14.06,0.13],[14.45,0.09],[14.73,0.035],[15.38,0.024],[17.01,0.021],[20.0,0.016]];
var epead120 = [[2.0,0.005],[3.0,0.0052],[4.0,0.005],[5.0,0.0051],[6.0,0.005],[6.45,0.005],[6.52,0.0098],[6.86,0.008],[8.16,0.0058],[9.48,0.0044],[10.66,0.005],[10.75,0.3],[10.99,0.65],[11.05,0.5],[11.44,0.44],[12.09,0.13],[12.62,0.035],[12.88,0.014],[13.74,0.0098],[15.04,0.0066],[17.01,0.0058],[20.0,0.005]];
var epead178 = [[2.0,0.003],[3.0,0.0031],[4.0,0.003],[5.0,0.0031],[6.0,0.003],[6.45,0.003],[6.52,0.0045],[8.16,0.0035],[10.66,0.003],[10.75,0.1],[10.99,0.15],[11.05,0.15],[11.44,0.1],[12.09,0.021],[12.62,0.0098],[12.88,0.005],[13.74,0.0039],[15.71,0.0034],[20.0,0.003]];

// ---------- f) GOES-15/HEPAD ----------
var hepadTicks = [0.001,0.01];
var hepadLabels = ["E = 297 MeV","E = 407 MeV","E = 516 MeV","E = 1095 MeV"];
var hepad297 = [[2.0,0.0029],[2.5,0.003],[3.0,0.0028],[3.5,0.003],[4.0,0.0029],[4.5,0.003],[5.0,0.0029],[5.5,0.003],[6.0,0.0029],[6.5,0.003],[7.0,0.003],[7.5,0.0029],[8.0,0.0028],[8.3,0.0026],[8.6,0.0025],[9.0,0.0027],[9.5,0.0028],[10.0,0.0029],[10.5,0.0029],[10.68,0.003],[10.72,0.016],[10.85,0.0187],[11.05,0.016],[11.25,0.012],[11.54,0.0089],[11.84,0.007],[12.23,0.0053],[12.62,0.0041],[13.21,0.0035],[13.8,0.0031],[14.3,0.003],[14.8,0.0029],[15.3,0.003],[15.8,0.0029],[16.3,0.003],[16.8,0.0029],[17.3,0.003],[17.8,0.0029],[18.3,0.003],[18.8,0.0029],[19.3,0.003],[19.8,0.0029],[20.0,0.003]];
var hepad407 = [[2.0,0.00135],[2.5,0.0014],[3.0,0.00132],[3.5,0.0014],[4.0,0.00135],[4.5,0.0013],[5.0,0.0014],[5.5,0.00135],[6.0,0.0014],[6.5,0.00132],[7.0,0.0014],[7.5,0.00135],[8.0,0.0013],[8.3,0.0012],[8.6,0.00118],[9.0,0.00125],[9.5,0.0013],[10.0,0.00135],[10.5,0.0013],[10.68,0.0014],[10.72,0.005],[10.8,0.0072],[10.9,0.0078],[11.0,0.0065],[11.25,0.0048],[11.64,0.0029],[12.13,0.0021],[12.62,0.0018],[13.41,0.0015],[14.0,0.0014],[14.5,0.00135],[15.0,0.0014],[15.5,0.00132],[16.0,0.0014],[16.5,0.00135],[17.0,0.0013],[17.5,0.0014],[18.0,0.00135],[18.5,0.0014],[19.0,0.0013],[19.5,0.0014],[20.0,0.00135]];
var hepad516 = [[2.0,0.0006],[2.5,0.00062],[3.0,0.00058],[3.5,0.00062],[4.0,0.0006],[4.5,0.00063],[5.0,0.0006],[5.5,0.00062],[6.0,0.0006],[6.5,0.00063],[7.0,0.00062],[7.5,0.0006],[8.0,0.00058],[8.3,0.00053],[8.6,0.0005],[9.0,0.00055],[9.5,0.00058],[10.0,0.0006],[10.5,0.0006],[10.68,0.00062],[10.72,0.0018],[10.85,0.0025],[11.0,0.0021],[11.25,0.0016],[11.64,0.0012],[12.23,0.00085],[13.0,0.00067],[13.5,0.00063],[14.0,0.0006],[14.5,0.00062],[15.0,0.0006],[15.5,0.00062],[16.0,0.0006],[16.5,0.00062],[17.0,0.0006],[17.5,0.00063],[18.0,0.0006],[18.5,0.00062],[19.0,0.0006],[19.5,0.00062],[20.0,0.0006]];
var hepad1095 = [[2.0,0.0002],[2.5,0.00021],[3.0,0.000195],[3.5,0.0002],[4.0,0.00021],[4.5,0.0002],[5.0,0.000195],[5.5,0.0002],[6.0,0.00021],[6.5,0.0002],[7.0,0.0002],[7.5,0.000205],[8.0,0.00019],[8.4,0.00017],[8.7,0.000175],[9.0,0.00018],[9.5,0.00019],[10.0,0.0002],[10.5,0.00019],[10.68,0.0002],[10.72,0.0003],[10.8,0.00032],[10.95,0.00027],[11.2,0.00023],[11.5,0.00021],[12.0,0.0002],[12.5,0.000205],[13.0,0.0002],[13.5,0.00021],[14.0,0.0002],[14.5,0.000195],[15.0,0.0002],[15.5,0.00021],[16.0,0.0002],[16.5,0.000195],[17.0,0.0002],[17.5,0.00021],[18.0,0.0002],[18.5,0.000205],[19.0,0.0002],[19.5,0.00021],[20.0,0.0002]];

// ---------- g) Dst ----------
var dstTicks = [-140,-120,-100,-80,-60,-40,-20,0,20];
var dstIndex = [[2.03,-13],[2.10,-19],[2.20,-31],[2.26,-24],[2.33,-26],[2.39,-37],[2.53,-20],[2.66,-20],[2.72,-17],[2.82,-26],[2.98,-19],[3.08,-22],[3.18,-17],[3.31,-19],[3.41,-13],[3.51,-20],[3.71,-15],[3.90,-6],[4.03,-17],[4.16,-15],[4.30,-10],[4.46,-6],[4.56,-13],[4.72,3],[4.82,-8],[4.95,-13],[5.08,-11],[5.18,-17],[5.34,-17],[5.44,-6],[5.54,-15],[5.67,-8],[5.80,-19],[6.0,-6],[6.16,5],[6.26,-2],[6.46,-2],[6.52,1],[6.59,-15],[6.69,-10],[6.92,-10],[6.98,3],[7.05,32],[7.15,23],[7.21,0],[7.31,-15],[7.41,-20],[7.51,-16],[7.61,-20],[7.71,-18],[7.80,-22],[7.90,-25],[7.96,-35],[8.0,-70],[8.04,-110],[8.08,-140],[8.14,-125],[8.22,-112],[8.30,-105],[8.37,-80],[8.43,-70],[8.49,-95],[8.55,-118],[8.63,-122],[8.73,-110],[8.83,-100],[8.93,-95],[9.04,-88],[9.18,-80],[9.32,-73],[9.48,-66],[9.67,-60],[9.87,-55],[10.07,-50],[10.26,-45],[10.46,-42],[10.66,-38],[10.85,-35],[11.05,-32],[11.25,-28],[11.44,-25],[11.64,-22],[11.84,-20],[12.03,-17],[12.23,-13],[12.33,-10],[12.43,-20],[12.53,-28],[12.62,-20],[12.72,-5],[12.82,-10],[12.88,-2],[12.96,-20],[13.01,-35],[13.12,-25],[13.21,-30],[13.41,-18],[13.61,-12],[13.80,-8],[14.0,-12],[14.20,-5],[14.39,8],[14.49,0],[14.55,5],[14.63,-20],[14.71,-38],[14.79,-45],[14.89,-35],[15.02,-30],[15.18,-25],[15.34,-32],[15.54,-22],[15.77,-28],[15.97,-20],[16.16,-25],[16.36,-15],[16.56,-20],[16.75,-28],[16.95,-18],[17.15,-25],[17.35,-10],[17.54,-20],[17.74,-15],[17.94,-25],[18.13,-12],[18.33,-20],[18.53,-25],[18.72,-18],[18.92,-12],[19.12,-20],[19.31,-8],[19.51,-15],[19.71,-12],[19.86,-20],[20.0,-30]];

// ---------- h) neutron monitors ----------
var crTicks = [-12,-10,-8,-6,-4,-2,0,2];
var nmLabels = ["MGDN, R=2.10 GV / Alt=220 m","SOPO, R=0.10 GV / Alt=2820 m"];
var mgdn = [[2.0,0],[2.03,-0.1],[2.2,-0.3],[2.45,-0.6],[2.7,-0.8],[2.98,-0.6],[3.3,-0.3],[3.57,-0.1],[3.9,-0.2],[4.2,0.1],[4.5,0.4],[4.75,0.3],[5.0,0],[5.3,-0.1],[5.65,0.1],[6.0,0],[6.3,0.4],[6.6,0.8],[6.75,0.5],[6.92,1.5],[7.05,0.8],[7.15,0.2],[7.3,0.1],[7.5,-0.2],[7.7,-0.3],[7.9,-0.8],[8.0,-2],[8.1,-3],[8.3,-5],[8.5,-8],[8.58,-9.5],[8.68,-8.5],[8.8,-7],[9.0,-6.5],[9.2,-6],[9.4,-6.3],[9.6,-5.5],[9.8,-4.5],[10.0,-4],[10.2,-3.8],[10.4,-3.5],[10.6,-3],[10.7,0.5],[10.8,-0.2],[11.0,-0.4],[11.2,-0.6],[11.44,-0.8],[11.7,-1.3],[12.0,-1.0],[12.2,-1.2],[12.5,-0.8],[12.85,-1.0],[13.1,-1.4],[13.4,-1.2],[13.7,-1.0],[14.0,-1.3],[14.3,-1.5],[14.55,-1.6],[14.73,-2.5],[15.0,-2.7],[15.2,-2.4],[15.5,-2.6],[15.8,-2.3],[16.0,-2.2],[16.3,-2.4],[16.6,-2.3],[16.9,-2.2],[17.2,-2.1],[17.5,-2.0],[17.9,-2.3],[18.2,-1.9],[18.6,-1.8],[19.0,-1.7],[19.3,-1.6],[19.7,-1.6],[20.0,-1.5]];
var sopo = [[2.0,0.2],[2.2,0.3],[2.4,0.6],[2.6,0.9],[2.8,0.6],[2.95,-0.1],[3.2,-0.2],[3.5,0],[3.8,0.2],[4.1,0.1],[4.4,0.3],[4.7,0.6],[4.85,0.2],[5.1,0.1],[5.4,0],[5.7,0.2],[6.0,0.1],[6.3,0.3],[6.6,0.5],[6.8,0.4],[6.93,0.9],[7.0,0.2],[7.05,-1.9],[7.15,-2.5],[7.3,-2.6],[7.45,-2.3],[7.6,-2.7],[7.75,-2.6],[7.9,-3.0],[8.0,-3.5],[8.1,-4],[8.3,-6],[8.45,-9],[8.55,-11.5],[8.63,-12.5],[8.7,-10],[8.8,-8],[9.0,-7],[9.2,-6.5],[9.4,-6.2],[9.6,-6],[9.8,-5],[10.0,-4.5],[10.2,-4],[10.4,-3.8],[10.6,-3],[10.7,2.2],[10.8,1.8],[10.9,0.3],[11.1,-0.5],[11.44,-1.0],[11.7,-1.5],[12.0,-1.2],[12.3,-1.4],[12.6,-1.0],[12.85,-1.2],[13.1,-1.6],[13.4,-1.4],[13.7,-1.2],[14.0,-1.5],[14.3,-1.6],[14.5,-1.0],[14.65,-0.5],[14.8,-2.0],[15.0,-3.0],[15.2,-3.2],[15.5,-3.0],[15.8,-3.0],[16.1,-2.8],[16.4,-3.0],[16.8,-2.8],[17.1,-2.7],[17.5,-2.6],[17.9,-2.5],[18.3,-2.4],[18.7,-2.3],[19.0,-2.1],[19.4,-2.0],[19.8,-1.9],[20.0,-1.9]];

// ================= drawing =================
var svg = d3.select("#chart");
var X0 = 60, X1 = 975;
var x = d3.scaleLinear().domain([2, 20]).range([X0, X1]);
var edges = [17, 181, 345, 508, 674, 837, 1002, 1166, 1326];

function rich(t, parts, fs) {
  var off = 0;
  parts.forEach(function(p) {
    var k = p[1] || "";
    var target = k === "sup" ? -fs * 0.42 : (k === "sub" ? fs * 0.3 : 0);
    t.append("tspan").attr("dy", target - off).attr("font-size", k ? fs * 0.72 : fs).text(p[0]);
    off = target;
  });
}

var intensityTitle = [["Intensity [MeV"],["-1","sup"],["sr"],["-1","sup"],["s"],["-1","sup"],["cm"],["-2","sup"],["]"]];
var panels = [
  {key:"a", log:false, domain:[0.5,34.5], major:bFieldTicks, step:1, title:[["B [nT]"]]},
  {key:"b", log:false, domain:[-90,88.5], major:thetaTicks, step:4, title:[["\u03b8"],["B","sub"],[" [deg]"]]},
  {key:"c", log:false, domain:[331,860], major:vswTicks, step:20, title:[["V"],["sw","sub"],[" [km s"],["-1","sup"],["]"]]},
  {key:"d", log:true, domain:[0.133,4.4e5], major:epamTicks, title:intensityTitle},
  {key:"e", log:true, domain:[1.74e-3,661], major:epeadTicks, title:intensityTitle},
  {key:"f", log:true, domain:[1.035e-4,0.0229], major:hepadTicks, title:intensityTitle},
  {key:"g", log:false, domain:[-144,33], major:dstTicks, step:4, title:[["Dst index [nT]"]]},
  {key:"h", log:false, domain:[-13.8,3.85], major:crTicks, step:0.5, title:[["Count-rate variation [%]"]]}
];

// shading + clip groups
panels.forEach(function(p, i) {
  p.y0 = edges[i]; p.y1 = edges[i + 1];
  p.y = (p.log ? d3.scaleLog() : d3.scaleLinear()).domain(p.domain).range([p.y1, p.y0]);
  svg.append("clipPath").attr("id", "clip-" + p.key).append("rect")
    .attr("x", X0).attr("y", p.y0).attr("width", X1 - X0).attr("height", p.y1 - p.y0);
  var sh = svg.append("g");
  [[grayBands, "#e5e5e5"], [greenBands, "#ccf7cc"], [orangeBands, "#f9c99b"]].forEach(function(bc) {
    bc[0].forEach(function(b) {
      sh.append("rect").attr("x", x(b[0])).attr("y", p.y0)
        .attr("width", x(b[1]) - x(b[0])).attr("height", p.y1 - p.y0).attr("fill", bc[1]);
    });
  });
  p.g = svg.append("g").attr("clip-path", "url(#clip-" + p.key + ")");
});

function drawLine(p, data, color, width, opacity) {
  var line = d3.line().x(function(d) { return x(d[0]); }).y(function(d) { return p.y(d[1]); });
  p.g.append("path").datum(data).attr("d", line).attr("fill", "none")
    .attr("stroke", color).attr("stroke-width", width).attr("stroke-opacity", opacity || 1)
    .attr("stroke-linejoin", "round").attr("stroke-linecap", "round");
}
function drawDots(p, data, color, size) {
  p.g.selectAll(null).data(data).enter().append("rect")
    .attr("x", function(d) { return x(d[0]) - size / 2; }).attr("y", function(d) { return p.y(d[1]) - size / 2; })
    .attr("width", size).attr("height", size).attr("fill", color);
}

var P = {};
panels.forEach(function(p) { P[p.key] = p; });

// a, b, c
drawDots(P.a, bFieldRaw, "#1a1aff", 2.6);
drawLine(P.a, bFieldFit, "#ff0000", 1.5);
drawDots(P.b, thetaRaw, "#1a1aff", 2.4);
drawLine(P.b, thetaFit, "#ff0000", 1.3);
drawDots(P.c, vswRaw, "#1a1aff", 2.6);
drawLine(P.c, vswFit, "#ff0000", 1.5);

// d
var epamSeries = [epam47, epam65, epam112, epam187, epam310, epam580, epam1060, epam1910];
var epamColors = ["#1c1c8c", "#2f7fd0", "#36c6f2", "#86e89e", "#e6f22a", "#f2a030", "#ff4a1a", "#c4301c"];
epamSeries.forEach(function(s, i) {
  drawLine(P.d, s, epamColors[i], 4.5, 0.35);
  drawLine(P.d, s, epamColors[i], 1.6);
});

// e
var epeadSeries = [epead6, epead12, epead20, epead46, epead120, epead178];
var epeadColors = ["#14147a", "#2a72c8", "#22c4f0", "#e2f020", "#f5a010", "#ff3a10"];
var epeadHalo = [4, 4, 5, 5, 7, 6];
epeadSeries.forEach(function(s, i) {
  drawLine(P.e, s, epeadColors[i], epeadHalo[i], 0.45);
  drawLine(P.e, s, epeadColors[i], 1.5);
});

// f
var hepadSeries = [hepad297, hepad407, hepad516, hepad1095];
var hepadColors = ["#0c0c7a", "#12c6f6", "#e0f020", "#ff4a14"];
var hepadBand = [16, 18, 22, 14];
hepadSeries.forEach(function(s, i) {
  drawLine(P.f, s, hepadColors[i], hepadBand[i], 0.5);
  drawLine(P.f, s, hepadColors[i], hepadBand[i] * 0.55);
});
hepadSeries.forEach(function(s) { drawLine(P.f, s, "#000", 1.6); });

// g
drawLine(P.g, dstIndex, "#1010ff", 1.5);

// h
drawLine(P.h, sopo, "#ff1a1a", 11, 0.55);
drawLine(P.h, sopo, "#ff1a1a", 6);
drawLine(P.h, mgdn, "#1a1aff", 10, 0.85);
drawLine(P.h, mgdn, "#1a1aff", 5);
drawLine(P.h, sopo, "#ffee00", 2);
drawLine(P.h, mgdn, "#00e8ff", 2);

// ---------- legends ----------
function legend(box, cols, rows, labels, colors, lineLen, fs) {
  svg.append("rect").attr("x", box[0]).attr("y", box[1]).attr("width", box[2]).attr("height", box[3]).attr("fill", "#fff");
  labels.forEach(function(lab, i) {
    var cx = cols[i % cols.length], cy = rows[Math.floor(i / cols.length)];
    svg.append("line").attr("x1", cx).attr("x2", cx + lineLen).attr("y1", cy).attr("y2", cy)
      .attr("stroke", colors[i]).attr("stroke-width", 2);
    svg.append("text").attr("x", cx + lineLen + 4).attr("y", cy + 3).attr("font-size", fs).text(lab);
  });
}
legend([383, 627, 317, 46], [387, 494, 601], [635, 646.7, 658.3], epamLabels, epamColors, 19, 8.6);
legend([747, 688, 198, 60], [752, 850], [698, 718, 739], epeadLabels, epeadColors, 17, 8.6);
legend([747, 847, 198, 32], [752, 850], [856, 872], hepadLabels, hepadColors, 17, 8.6);

svg.append("text").attr("x", 718).attr("y", 1288).attr("font-size", 9.6).attr("fill", "#1a1aff").text(nmLabels[0]);
svg.append("text").attr("x", 718).attr("y", 1307).attr("font-size", 9.6).attr("fill", "#ff1a1a").text(nmLabels[1]);

svg.append("text").attr("x", 100).attr("y", 529).attr("font-size", 10.5).text("ACE/EPAM/LEMS-120");
svg.append("text").attr("x", 99).attr("y", 692).attr("font-size", 10.5).text("GOES-15/EPEAD-A");
svg.append("text").attr("x", 99).attr("y", 857).attr("font-size", 10.5).text("GOES-15/HEPAD");

// ---------- event lines ----------
eventDays.forEach(function(d, i) {
  var ln = svg.append("line").attr("x1", x(d)).attr("x2", x(d)).attr("y1", edges[0]).attr("y2", edges[8]);
  if (eventKinds[i] === "sep") ln.attr("stroke", "#000").attr("stroke-width", 1.4).attr("stroke-dasharray", "1.4,2.8");
  else ln.attr("stroke", "#333").attr("stroke-width", 1.8).attr("stroke-dasharray", "9,5");
  svg.append("text").attr("x", x(eventLabelDays[i])).attr("y", 13).attr("text-anchor", "middle")
    .attr("font-size", 11.5).text(eventNames[i]);
});

// ---------- frames, ticks, labels ----------
var letters = ["a)", "b)", "c)", "d)", "e)", "f)", "g)", "h)"];
panels.forEach(function(p, i) {
  var ax = svg.append("g").attr("stroke", "#000");
  var minor = [];
  if (p.log) {
    var e0 = Math.floor(Math.log10(p.domain[0])), e1 = Math.ceil(Math.log10(p.domain[1]));
    for (var e = e0; e <= e1; e++) for (var m = 2; m <= 9; m++) {
      var v = m * Math.pow(10, e);
      if (v >= p.domain[0] && v <= p.domain[1]) minor.push(v);
    }
  } else {
    var s = Math.ceil(p.domain[0] / p.step);
    for (var k = s; k * p.step <= p.domain[1]; k++) minor.push(k * p.step);
  }
  minor.forEach(function(v) {
    var yy = p.y(v);
    ax.append("line").attr("x1", X0).attr("x2", X0 + 13).attr("y1", yy).attr("y2", yy).attr("stroke-width", 1.3);
    ax.append("line").attr("x1", X1 - 13).attr("x2", X1).attr("y1", yy).attr("y2", yy).attr("stroke-width", 1.3);
  });
  p.major.forEach(function(v) {
    var yy = p.y(v);
    ax.append("line").attr("x1", X0).attr("x2", X0 + 27).attr("y1", yy).attr("y2", yy).attr("stroke-width", 1.5);
    ax.append("line").attr("x1", X1 - 27).attr("x2", X1).attr("y1", yy).attr("y2", yy).attr("stroke-width", 1.5);
    var t = svg.append("text").attr("x", 55).attr("y", yy + 3.5).attr("text-anchor", "end").attr("font-size", 10);
    if (p.log) {
      var ex = Math.round(Math.log10(v));
      if (ex === 0) rich(t, [["1"]], 10);
      else if (ex === 1) rich(t, [["10"]], 10);
      else rich(t, [["10"], [String(ex), "sup"]], 10);
    } else {
      t.text(String(v));
    }
  });
  for (var h = 2.5; h < 20; h += 0.5) {
    var xx = x(h), len = (h % 1 === 0) ? 7 : 5;
    ax.append("line").attr("x1", xx).attr("x2", xx).attr("y1", p.y0).attr("y2", p.y0 + len).attr("stroke-width", 1.4);
    ax.append("line").attr("x1", xx).attr("x2", xx).attr("y1", p.y1).attr("y2", p.y1 - len).attr("stroke-width", 1.4);
  }
  svg.append("rect").attr("x", X0).attr("y", p.y0).attr("width", X1 - X0).attr("height", p.y1 - p.y0)
    .attr("fill", "none").attr("stroke", "#000").attr("stroke-width", 2);
  var cy = (p.y0 + p.y1) / 2;
  var tt = svg.append("text").attr("transform", "translate(21," + cy + ") rotate(-90)")
    .attr("text-anchor", "middle").attr("font-size", 10.5);
  rich(tt, p.title, 10.5);
  svg.append("text").attr("x", 978).attr("y", p.y0 + 12).attr("font-size", 12).attr("fill", "#ff0000").text(letters[i]);
});

dayTicks.forEach(function(d, i) {
  svg.append("text").attr("x", x(d)).attr("y", 1338).attr("text-anchor", "middle").attr("font-size", 10.5).text(dayLabels[i]);
});
svg.append("text").attr("x", 517).attr("y", 1351).attr("text-anchor", "middle").attr("font-size", 13).text("Days of September 2017");
</script>
</body>
</html>
